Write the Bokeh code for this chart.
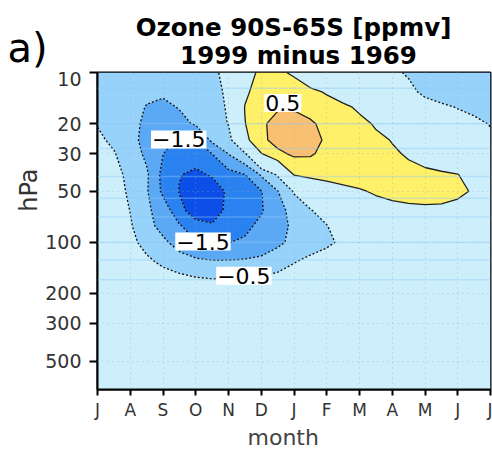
import numpy as np
from bokeh.plotting import figure
from bokeh.layouts import column
from bokeh.models import Range1d, FixedTicker, PrintfTickFormatter, Label, Span, Title
from bokeh.embed import file_html
from bokeh.resources import INLINE

# ---------------- data ----------------
months = [0, 0.5, 1, 1.5, 2, 2.5, 3, 3.5, 4, 4.5, 5, 5.5, 6, 6.5, 7, 7.5,
          8, 8.5, 9, 9.5, 10, 10.5, 11, 11.5, 12]
month_labels = ["J", "A", "S", "O", "N", "D", "J", "F", "M", "A", "M", "J", "J"]
pressure = [10, 13, 16, 20, 25, 30, 40, 50, 65, 80, 100, 130, 170, 220, 300, 500, 735]
pressure_ticks = [10, 20, 30, 50, 100, 200, 300, 500]

o3_p10 = [-0.8, -0.8, -0.85, -0.85, -0.8, -0.75, -0.65, -0.58, -0.38, 0.3, 0.6, 0.6, 0.42,
          0.1, 0.0, -0.1, -0.2, -0.3, -0.42, -0.55, -0.65, -0.72, -0.78, -0.8, -0.8]
o3_p13 = [-0.7, -0.75, -0.85, -0.92, -0.95, -0.9, -0.75, -0.68, -0.4, 0.4, 0.75, 0.85, 0.8,
          0.62, 0.45, 0.25, 0.1, -0.05, -0.2, -0.38, -0.6, -0.7, -0.72, -0.72, -0.7]
o3_p16 = [-0.6, -0.7, -0.85, -1.02, -1.08, -0.98, -0.85, -0.68, -0.45, 0.52, 0.9, 0.97, 0.97,
          0.88, 0.72, 0.6, 0.42, 0.25, 0.05, -0.15, -0.3, -0.42, -0.52, -0.58, -0.6]
o3_p20 = [-0.52, -0.6, -0.85, -1.1, -1.18, -1.12, -0.95, -0.75, -0.48, 0.48, 0.95, 1.1, 1.12,
          1.05, 0.9, 0.78, 0.63, 0.45, 0.3, 0.15, 0.0, -0.15, -0.3, -0.42, -0.52]
o3_p25 = [-0.42, -0.58, -0.85, -1.15, -1.38, -1.55, -1.52, -0.9, -0.7, 0.35, 0.9, 1.15, 1.2,
          1.12, 0.95, 0.85, 0.72, 0.6, 0.48, 0.33, 0.2, 0.05, -0.1, -0.25, -0.42]
o3_p30 = [-0.3, -0.47, -0.75, -1.1, -1.49, -1.75, -1.8, -1.49, -0.98, -0.55, 0.48, 0.9, 1.08,
          1.05, 0.88, 0.78, 0.7, 0.62, 0.56, 0.45, 0.3, 0.15, 0.0, -0.15, -0.3]
o3_p40 = [-0.15, -0.35, -0.62, -0.92, -1.65, -1.98, -2.1, -1.95, -1.7, -1.52, -0.95, -0.45, 0.52,
          0.66, 0.7, 0.72, 0.7, 0.68, 0.66, 0.64, 0.62, 0.58, 0.52, 0.2, -0.15]
o3_p50 = [-0.05, -0.3, -0.58, -0.95, -1.6, -2.02, -2.4, -2.3, -1.9, -1.72, -1.52, -1.02, -0.45,
          -0.2, 0.15, 0.35, 0.46, 0.55, 0.6, 0.62, 0.62, 0.6, 0.56, 0.47, -0.05]
o3_p65 = [0.0, -0.25, -0.51, -0.92, -1.2, -1.85, -2.25, -2.2, -1.9, -1.7, -1.55, -1.15, -0.85,
          -0.53, -0.3, 0.0, 0.2, 0.3, 0.38, 0.42, 0.44, 0.44, 0.4, 0.3, 0.0]
o3_p80 = [0.0, -0.2, -0.45, -0.85, -1.15, -1.45, -1.8, -1.95, -1.85, -1.65, -1.35, -1.15, -0.92,
          -0.7, -0.52, -0.2, 0.0, 0.12, 0.2, 0.25, 0.27, 0.26, 0.22, 0.15, 0.0]
o3_p100 = [0.0, -0.15, -0.38, -0.65, -0.9, -1.2, -1.45, -1.55, -1.52, -1.4, -1.25, -1.08, -0.9,
           -0.75, -0.6, -0.4, -0.2, 0.0, 0.08, 0.12, 0.12, 0.1, 0.08, 0.05, 0.0]
o3_p130 = [0.0, -0.05, -0.2, -0.4, -0.6, -0.75, -0.88, -0.95, -0.95, -0.93, -0.88, -0.75, -0.53,
           -0.35, -0.22, -0.1, 0.0, 0.0, 0.0, 0.0, 0.0, 0.0, 0.0, 0.0, 0.0]
o3_p170 = [0.0, 0.0, -0.05, -0.12, -0.2, -0.3, -0.38, -0.42, -0.42, -0.4, -0.35, -0.25, -0.15,
           -0.08, -0.03, 0.0, 0.0, 0.0, 0.0, 0.0, 0.0, 0.0, 0.0, 0.0, 0.0]
o3_p220 = [0.0, 0.0, 0.0, -0.05, -0.1, -0.12, -0.15, -0.18, -0.18, -0.15, -0.12, -0.1, -0.05,
           -0.02, 0.0, 0.01, 0.02, 0.02, 0.01, 0.0, 0.0, 0.0, 0.0, 0.0, 0.0]
o3_p300 = [0.0, 0.0, 0.0, -0.02, -0.05, -0.05, -0.08, -0.08, -0.08, -0.06, -0.05, -0.04, -0.02,
           0.0, 0.02, 0.04, 0.05, 0.05, 0.04, 0.03, 0.02, 0.01, 0.0, 0.0, 0.0]
o3_p500 = [0.0, 0.0, 0.0, 0.0, -0.02, -0.03, -0.04, -0.04, -0.03, -0.02, 0.0, 0.02, 0.05,
           0.1, 0.15, 0.1, 0.06, 0.04, 0.02, 0.01, 0.0, 0.0, 0.0, 0.0, 0.0]
o3_p735 = [0.0, 0.0, 0.0, 0.0, 0.0, -0.01, -0.02, -0.02, -0.02, -0.01, 0.0, 0.01, 0.03,
           0.05, 0.08, 0.05, 0.03, 0.02, 0.01, 0.0, 0.0, 0.0, 0.0, 0.0, 0.0]

fill_levels = [-3.0, -2.0, -1.5, -1.0, -0.5, 0.5, 1.0, 2.0]
neg_levels = [-2.0, -1.5, -1.0, -0.5]
pos_levels = [0.5, 1.0]
fill_colors = ["#0b4fe8", "#2a82f0", "#5ba8f5", "#96d2fa", "#cdeffc", "#fff06a", "#fac071"]

# contour labels: text, month, pressure
clabel_text = ["\u22121.5", "\u22121.5", "\u22120.5", "0.5"]
clabel_month = [2.48, 3.22, 4.47, 5.66]
clabel_pres = [24.8, 99, 157, 15.1]

# faint horizontal level lines seen in the shading
level_lines = [12.4, 20, 28, 41, 55, 71, 100, 127, 166]

title_line1 = "Ozone 90S-65S [ppmv]"
title_line2 = "1999 minus 1969"
panel_tag = "a)"

z = np.array([o3_p10, o3_p13, o3_p16, o3_p20, o3_p25, o3_p30, o3_p40, o3_p50, o3_p65,
              o3_p80, o3_p100, o3_p130, o3_p170, o3_p220, o3_p300, o3_p500, o3_p735])

FONT = "DejaVu Sans"
W = 492
HEAD_H = 71
MAIN_H = 378

# ---------------- header (titles); its frame is the whole strip, 1 unit = 1 px ----------------
head = figure(width=W, height=HEAD_H, output_backend="svg", toolbar_location=None,
              x_range=Range1d(0, W), y_range=Range1d(HEAD_H, 0),
              x_axis_location=None, y_axis_location=None,
              min_border=0, title=None)
head.frame_align = False
head.outline_line_color = None
head.xgrid.visible = False
head.ygrid.visible = False
head.background_fill_color = "white"
head.border_fill_color = "white"
head.add_layout(Label(x=293, y=27, text=title_line1, text_align="center",
                      text_baseline="alphabetic", text_font=FONT, text_font_size="24.5px",
                      text_font_style="bold", text_color="black"))
head.add_layout(Label(x=298, y=55, text=title_line2, text_align="center",
                      text_baseline="alphabetic", text_font=FONT, text_font_size="24.5px",
                      text_font_style="bold", text_color="black"))
head.add_layout(Label(x=7, y=47, text=panel_tag, text_align="left",
                      text_baseline="alphabetic", text_font=FONT, text_font_size="40px",
                      text_color="black"))

# ---------------- main contour panel ----------------
p = figure(width=W, height=MAIN_H, output_backend="svg", toolbar_location=None,
           x_range=Range1d(0, 12), y_range=Range1d(735, 10), y_axis_type="log",
           min_border_left=97, min_border_right=2, min_border_top=1, min_border_bottom=56,
           title=None)
p.frame_align = False
p.background_fill_color = "#cdeffc"
p.border_fill_color = "white"
p.outline_line_color = "black"
p.outline_line_width = 2

p.contour(months, pressure, z, levels=fill_levels, fill_color=fill_colors, line_color=None)

for lv in level_lines:
    p.add_layout(Span(location=lv, dimension="width", line_color="#8ccaf5",
                      line_alpha=0.4, line_width=1.5))

p.contour(months, pressure, z, levels=neg_levels, line_color="#111111",
          line_dash="2 2", line_width=1.3)
p.contour(months, pressure, z, levels=pos_levels, line_color="#222222", line_width=1.3)

# grids
p.xgrid.ticker = FixedTicker(ticks=list(range(13)))
p.ygrid.ticker = FixedTicker(ticks=pressure_ticks)
for g in (p.xgrid, p.ygrid):
    g.grid_line_color = "#8fa7b0"
    g.grid_line_dash = "1 4"
    g.grid_line_alpha = 0.6
    g.level = "guide"

# axes
p.xaxis.ticker = FixedTicker(ticks=list(range(13)))
p.xaxis.major_label_overrides = {i: lab for i, lab in enumerate(month_labels)}
p.yaxis.ticker = FixedTicker(ticks=pressure_ticks)
p.yaxis.formatter = PrintfTickFormatter(format="%d")
for ax in (p.xaxis, p.yaxis):
    ax.axis_line_width = 2
    ax.axis_line_color = "black"
    ax.major_tick_line_width = 2
    ax.major_tick_line_color = "black"
    ax.major_tick_in = 0
    ax.minor_tick_line_color = None
    ax.major_label_text_font = FONT
    ax.major_label_text_color = "#333333"
p.yaxis.major_tick_out = 8
p.yaxis.major_label_standoff = 8
p.yaxis.major_label_text_font_size = "19px"
p.xaxis.major_tick_out = 6
p.xaxis.major_label_standoff = 4
p.xaxis.major_label_text_font_size = "17px"

# axis titles as side panels (offset measured from the frame's top / left edge)
p.add_layout(Title(text="hPa", align="right", offset=96, standoff=0,
                   text_font=FONT, text_font_size="24px", text_font_style="normal",
                   text_color="#333333"), "left")
p.add_layout(Title(text="month", align="left", offset=150, standoff=0,
                   text_font=FONT, text_font_size="22px", text_font_style="normal",
                   text_color="#444444"), "below")

# contour labels
for t, mx, pr in zip(clabel_text, clabel_month, clabel_pres):
    p.add_layout(Label(x=mx, y=pr, text=t, text_align="center", text_baseline="middle",
                       text_font=FONT, text_font_size="22px", text_color="black",
                       background_fill_color="white", padding=1))

page = column(head, p, spacing=0)
open("out.html", "w").write(file_html(page, INLINE))
